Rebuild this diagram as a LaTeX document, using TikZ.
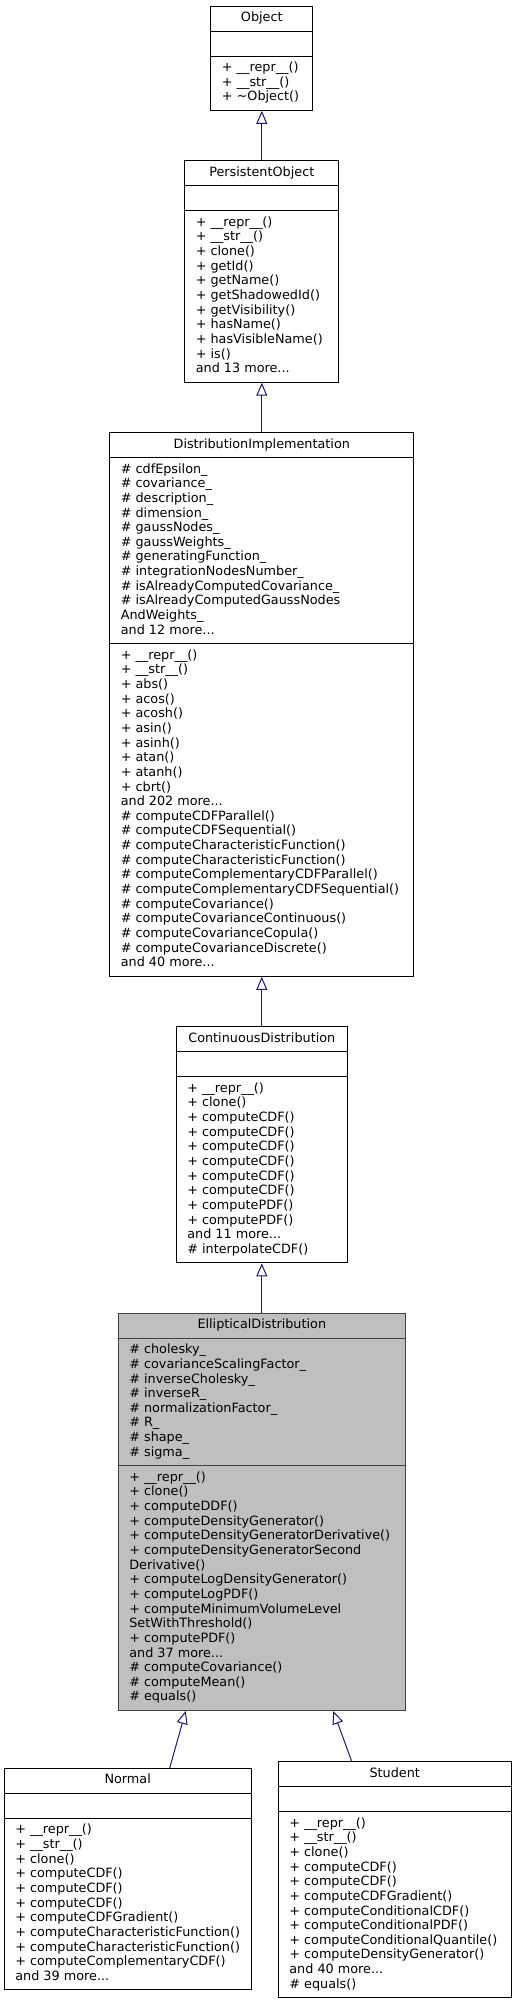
\documentclass[tikz,border=0pt]{standalone}
\usepackage{fontspec}
\setmainfont{DejaVu Sans}
\usetikzlibrary{arrows.meta,positioning,shapes.multipart}
\definecolor{midnightblue}{RGB}{25,25,112}
\definecolor{grey75}{RGB}{191,191,191}
\newcommand{\members}[1]{\begin{tabular}{@{}l@{}}#1\end{tabular}}
\newcommand{\nomembers}{\members{\phantom{+}}}

\begin{document}
\begin{tikzpicture}[
            x=1pt, y=1pt,
            umlclass/.style={
            rectangle split,
            rectangle split parts=3,
            rectangle split part align={center,left,left},
            draw=black,
            line width=1pt,
            inner xsep=11pt,
            inner ysep=4.65pt,
            font=\fontsize{12.8pt}{14.65pt}\selectfont},
        current/.style={umlclass, fill=grey75, draw=black!75},
        inherit/.style={-{Triangle[open,length=13pt,width=11pt]}, draw=midnightblue, line width=1pt},
        node distance=49.5pt
        ]
        \useasboundingbox (0,0) rectangle (517,-2005);

        \node[umlclass, anchor=north, minimum width=101.7pt] (obj) at (261.8,-5.7) {\members{Object}
            \nodepart{two}\nomembers
            \nodepart{three}\members{+ \_\_repr\_\_()\\+ \_\_str\_\_()\\+ \textasciitilde Object()}};
        \node[umlclass, below=of obj, minimum width=154pt] (pobj) {\members{PersistentObject}
            \nodepart{two}\nomembers
            \nodepart{three}\members{+ \_\_repr\_\_()\\+ \_\_str\_\_()\\+ clone()\\+ getId()\\+ getName()\\+ getShadowedId()\\+ getVisibility()\\+ hasName()\\+ hasVisibleName()\\+ is()\\and 13 more...}};
        \node[umlclass, below=of pobj, minimum width=304pt] (dimpl) {\members{DistributionImplementation}
            \nodepart{two}\members{\# cdfEpsilon\_\\\# covariance\_\\\# description\_\\\# dimension\_\\\# gaussNodes\_\\\# gaussWeights\_\\\# generatingFunction\_\\\# integrationNodesNumber\_\\\# isAlreadyComputedCovariance\_\\\# isAlreadyComputedGaussNodes\\AndWeights\_\\and 12 more...}
            \nodepart{three}\members{+ \_\_repr\_\_()\\+ \_\_str\_\_()\\+ abs()\\+ acos()\\+ acosh()\\+ asin()\\+ asinh()\\+ atan()\\+ atanh()\\+ cbrt()\\and 202 more...\\\# computeCDFParallel()\\\# computeCDFSequential()\\\# computeCharacteristicFunction()\\\# computeCharacteristicFunction()\\\# computeComplementaryCDFParallel()\\\# computeComplementaryCDFSequential()\\\# computeCovariance()\\\# computeCovarianceContinuous()\\\# computeCovarianceCopula()\\\# computeCovarianceDiscrete()\\and 40 more...}};
        \node[umlclass, below=of dimpl, minimum width=171pt] (cdist) {\members{ContinuousDistribution}
            \nodepart{two}\nomembers
            \nodepart{three}\members{+ \_\_repr\_\_()\\+ clone()\\+ computeCDF()\\+ computeCDF()\\+ computeCDF()\\+ computeCDF()\\+ computeCDF()\\+ computeCDF()\\+ computePDF()\\+ computePDF()\\and 11 more...\\\# interpolateCDF()}};
        \node[current, below=of cdist, minimum width=287pt] (ell) {\members{EllipticalDistribution}
            \nodepart{two}\members{\# cholesky\_\\\# covarianceScalingFactor\_\\\# inverseCholesky\_\\\# inverseR\_\\\# normalizationFactor\_\\\# R\_\\\# shape\_\\\# sigma\_}
            \nodepart{three}\members{+ \_\_repr\_\_()\\+ clone()\\+ computeDDF()\\+ computeDensityGenerator()\\+ computeDensityGeneratorDerivative()\\+ computeDensityGeneratorSecond\\Derivative()\\+ computeLogDensityGenerator()\\+ computeLogPDF()\\+ computeMinimumVolumeLevel\\SetWithThreshold()\\+ computePDF()\\and 37 more...\\\# computeCovariance()\\\# computeMean()\\\# equals()}};
        \node[umlclass, below=57pt of ell, xshift=-134.1pt, minimum width=242pt] (nor) {\members{Normal}
            \nodepart{two}\nomembers
            \nodepart{three}\members{+ \_\_repr\_\_()\\+ \_\_str\_\_()\\+ clone()\\+ computeCDF()\\+ computeCDF()\\+ computeCDF()\\+ computeCDFGradient()\\+ computeCharacteristicFunction()\\+ computeCharacteristicFunction()\\+ computeComplementaryCDF()\\and 39 more...}};
        \node[umlclass, below=50.3pt of ell, xshift=132.9pt, minimum width=232.7pt] (stu) {\members{Student}
            \nodepart{two}\nomembers
            \nodepart{three}\members{+ \_\_repr\_\_()\\+ \_\_str\_\_()\\+ clone()\\+ computeCDF()\\+ computeCDF()\\+ computeCDFGradient()\\+ computeConditionalCDF()\\+ computeConditionalPDF()\\+ computeConditionalQuantile()\\+ computeDensityGenerator()\\and 40 more...\\\# equals()}};

        \foreach \i/\j in {pobj/obj, dimpl/pobj, cdist/dimpl, ell/cdist}
            \draw[inherit] (\i) -- (\j);
        \draw[inherit] ([xshift=42pt]nor.north) -- ([xshift=-76.1pt]ell.south);
        \draw[inherit] ([xshift=-43pt]stu.north) -- ([xshift=71.5pt]ell.south);
\end{tikzpicture}
\end{document}
